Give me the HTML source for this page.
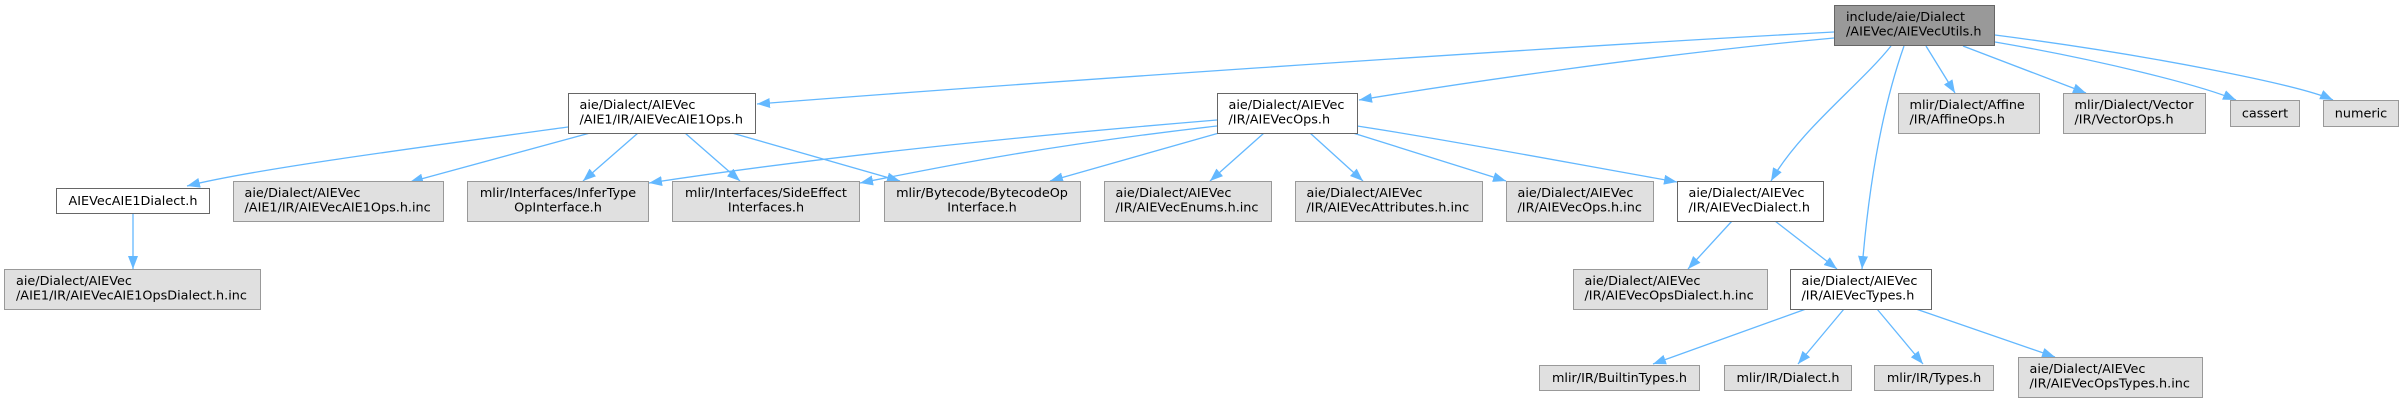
<!DOCTYPE html>
<html><head><meta charset="utf-8"><style>
html,body{margin:0;padding:0;background:#fff;}
svg{display:block;}
text{font-family:"DejaVu Sans","Liberation Sans",sans-serif;font-size:12.8px;fill:#000;}
.w{fill:#fff;stroke:#666;stroke-width:1;}
.g{fill:#e0e0e0;stroke:#999;stroke-width:1;}
.r{fill:#999;stroke:#666;stroke-width:1;}
.e{fill:none;stroke:#63b8ff;stroke-width:1.3;marker-end:url(#a);}
</style></head><body>
<svg width="2403" height="403" viewBox="0 0 2403 403" xmlns="http://www.w3.org/2000/svg">
<defs><marker id="a" markerWidth="14" markerHeight="11" refX="13" refY="5" orient="auto" markerUnits="userSpaceOnUse"><path d="M0,0 L13,5 L0,10 z" fill="#63b8ff"/></marker></defs>

<!-- edges -->
<path class="e" d="M1834,32 C1500,50 1000,85 757,104"/>
<path class="e" d="M1834,38 C1650,55 1450,85 1359,100"/>
<path class="e" d="M1891,46 C1860,85 1800,130 1771,181"/>
<path class="e" d="M1904,46 C1885,100 1870,170 1862,269"/>
<path class="e" d="M1926,46 L1955,93"/>
<path class="e" d="M1963,46 L2086,93"/>
<path class="e" d="M1995,42 C2100,60 2200,85 2236,100"/>
<path class="e" d="M1995,35 C2150,55 2300,85 2333,100"/>

<path class="e" d="M568,127 C400,150 250,170 187,186"/>
<path class="e" d="M590,133 L410,182"/>
<path class="e" d="M638,133 L583,181"/>
<path class="e" d="M685,133 L740,181"/>
<path class="e" d="M732,133 L900,181"/>

<path class="e" d="M1217,120 C1000,138 800,160 649,183"/>
<path class="e" d="M1217,126 C1050,145 950,165 860,183"/>
<path class="e" d="M1219,133 L1050,181"/>
<path class="e" d="M1264,133 L1210,181"/>
<path class="e" d="M1310,133 L1363,181"/>
<path class="e" d="M1353,133 L1506,181"/>
<path class="e" d="M1357,126 C1450,140 1580,165 1677,182"/>

<path class="e" d="M133,213 L133,269"/>
<path class="e" d="M1732,221 L1688,269"/>
<path class="e" d="M1775,221 L1837,269"/>
<path class="e" d="M1806,309 L1653,364"/>
<path class="e" d="M1844,309 L1798,364"/>
<path class="e" d="M1877,309 L1923,364"/>
<path class="e" d="M1916,309 L2055,357"/>

<!-- nodes -->
<rect class="r" x="1834.5" y="5.5" width="160" height="40"/>
<text x="1846" y="21">include/aie/Dialect</text><text x="1846" y="35.5">/AIEVec/AIEVecUtils.h</text>

<rect class="w" x="568.5" y="93.5" width="187" height="40"/>
<text x="579.5" y="109">aie/Dialect/AIEVec</text><text x="579.5" y="123.5">/AIE1/IR/AIEVecAIE1Ops.h</text>

<rect class="w" x="1217.5" y="93.5" width="140" height="40"/>
<text x="1228.5" y="109">aie/Dialect/AIEVec</text><text x="1228.5" y="123.5">/IR/AIEVecOps.h</text>

<rect class="g" x="1898.5" y="93.5" width="141" height="40"/>
<text x="1909.5" y="109">mlir/Dialect/Affine</text><text x="1909.5" y="123.5">/IR/AffineOps.h</text>

<rect class="g" x="2063.5" y="93.5" width="142" height="40"/>
<text x="2074.5" y="109">mlir/Dialect/Vector</text><text x="2074.5" y="123.5">/IR/VectorOps.h</text>

<rect class="g" x="2230.5" y="100.5" width="69" height="26"/>
<text x="2265" y="117.5" text-anchor="middle">cassert</text>

<rect class="g" x="2323.5" y="100.5" width="75" height="26"/>
<text x="2361" y="117.5" text-anchor="middle">numeric</text>

<rect class="w" x="56.5" y="188.5" width="153" height="25"/>
<text x="133" y="205" text-anchor="middle">AIEVecAIE1Dialect.h</text>

<rect class="g" x="233.5" y="181.5" width="210" height="40"/>
<text x="244.5" y="197">aie/Dialect/AIEVec</text><text x="244.5" y="211.5">/AIE1/IR/AIEVecAIE1Ops.h.inc</text>

<rect class="g" x="467.5" y="181.5" width="181" height="40"/>
<text x="558" y="197" text-anchor="middle">mlir/Interfaces/InferType</text><text x="558" y="211.5" text-anchor="middle">OpInterface.h</text>

<rect class="g" x="672.5" y="181.5" width="187" height="40"/>
<text x="766" y="197" text-anchor="middle">mlir/Interfaces/SideEffect</text><text x="766" y="211.5" text-anchor="middle">Interfaces.h</text>

<rect class="g" x="884.5" y="181.5" width="196" height="40"/>
<text x="982" y="197" text-anchor="middle">mlir/Bytecode/BytecodeOp</text><text x="982" y="211.5" text-anchor="middle">Interface.h</text>

<rect class="g" x="1104.5" y="181.5" width="167" height="40"/>
<text x="1115.5" y="197">aie/Dialect/AIEVec</text><text x="1115.5" y="211.5">/IR/AIEVecEnums.h.inc</text>

<rect class="g" x="1295.5" y="181.5" width="187" height="40"/>
<text x="1306.5" y="197">aie/Dialect/AIEVec</text><text x="1306.5" y="211.5">/IR/AIEVecAttributes.h.inc</text>

<rect class="g" x="1506.5" y="181.5" width="147" height="40"/>
<text x="1517.5" y="197">aie/Dialect/AIEVec</text><text x="1517.5" y="211.5">/IR/AIEVecOps.h.inc</text>

<rect class="w" x="1677.5" y="181.5" width="146" height="40"/>
<text x="1688.5" y="197">aie/Dialect/AIEVec</text><text x="1688.5" y="211.5">/IR/AIEVecDialect.h</text>

<rect class="g" x="4.5" y="269.5" width="256" height="40"/>
<text x="16" y="285">aie/Dialect/AIEVec</text><text x="16" y="299.5">/AIE1/IR/AIEVecAIE1OpsDialect.h.inc</text>

<rect class="g" x="1573.5" y="269.5" width="194" height="40"/>
<text x="1584.5" y="285">aie/Dialect/AIEVec</text><text x="1584.5" y="299.5">/IR/AIEVecOpsDialect.h.inc</text>

<rect class="w" x="1790.5" y="269.5" width="141" height="40"/>
<text x="1801.5" y="285">aie/Dialect/AIEVec</text><text x="1801.5" y="299.5">/IR/AIEVecTypes.h</text>

<rect class="g" x="1539.5" y="365.5" width="160" height="25"/>
<text x="1619.5" y="382" text-anchor="middle">mlir/IR/BuiltinTypes.h</text>

<rect class="g" x="1724.5" y="365.5" width="127" height="25"/>
<text x="1788" y="382" text-anchor="middle">mlir/IR/Dialect.h</text>

<rect class="g" x="1874.5" y="365.5" width="119" height="25"/>
<text x="1934" y="382" text-anchor="middle">mlir/IR/Types.h</text>

<rect class="g" x="2018.5" y="357.5" width="184" height="40"/>
<text x="2029.5" y="373">aie/Dialect/AIEVec</text><text x="2029.5" y="387.5">/IR/AIEVecOpsTypes.h.inc</text>
</svg>
</body></html>
